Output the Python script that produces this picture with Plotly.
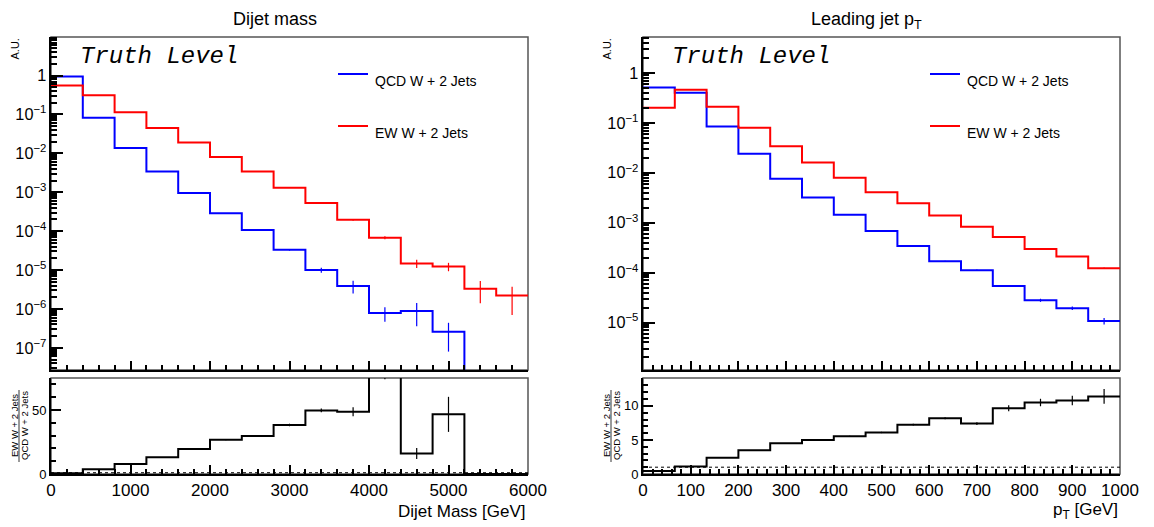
import numpy as np
import plotly.graph_objects as go

# ---------------- data ----------------
mass_edges_range = (0, 6000)
n_bins = 15
qcd_mass = [0.95, 0.082, 0.0137, 0.0034, 0.00095, 2.9e-4, 1.07e-4, 3.3e-5, 1.0e-5,
            3.9e-6, 7.9e-7, 8.9e-7, 2.6e-7, 0, 0]
qcd_mass_err = [0.002, 0.0006, 0.0001, 0.00003, 0.00001, 4e-6, 2e-6, 1.5e-6, 1.5e-6,
                1.4e-6, 3.2e-7, 5.3e-7, 1.8e-7, 0, 0]
ew_mass = [0.55, 0.31, 0.113, 0.045, 0.019, 0.0080, 0.0034, 0.0013, 5.3e-4,
           1.95e-4, 6.8e-5, 1.48e-5, 1.23e-5, 3.3e-6, 2.2e-6]
ew_mass_err = [0.003, 0.002, 0.0008, 0.0003, 0.0001, 5e-5, 2e-5, 1e-5, 8e-6,
               1e-5, 6e-6, 3.6e-6, 3e-6, 1.9e-6, 1.5e-6]
ratio_mass = [0.6, 3.7, 7.8, 13.0, 19.5, 26.8, 29.7, 38.3, 49.7, 48.7, 86.0, 16.1, 46.6, 0, 0]
ratio_mass_err = [0.01, 0.05, 0.1, 0.2, 0.3, 0.5, 0.7, 1.0, 1.5, 3.5, 12.0, 4.3, 13.7, 0, 0]

pt_range = (0, 1000)
qcd_pt = [0.51, 0.40, 0.085, 0.024, 0.0076, 0.0032, 0.00145, 6.8e-4, 3.4e-4,
          1.7e-4, 1.12e-4, 5.4e-5, 2.8e-5, 1.94e-5, 1.07e-5]
qcd_pt_err = [0.001, 0.001, 0.0003, 0.0001, 4e-5, 2e-5, 1e-5, 6e-6, 4e-6,
              3e-6, 3e-6, 2e-6, 2e-6, 1.5e-6, 1.6e-6]
ew_pt = [0.20, 0.46, 0.21, 0.080, 0.034, 0.016, 0.0080, 0.0041, 0.00245,
         0.0014, 8.3e-4, 5.2e-4, 2.97e-4, 2.1e-4, 1.23e-4]
ew_pt_err = [0.001, 0.002, 0.001, 0.0004, 0.0002, 0.0001, 5e-5, 3e-5, 2e-5,
             1.5e-5, 1e-5, 8e-6, 6e-6, 5e-6, 4e-6]
ratio_pt = [0.45, 1.1, 2.4, 3.5, 4.5, 5.0, 5.55, 6.1, 7.25, 8.2, 7.4, 9.65, 10.5, 10.8, 11.4]
ratio_pt_err = [0.01, 0.02, 0.03, 0.04, 0.05, 0.06, 0.08, 0.1, 0.12, 0.15, 0.2, 0.45, 0.55, 0.7, 1.1]

series_names = ["QCD W + 2 Jets", "EW W + 2 Jets"]
titles = ["Dijet mass", "Leading jet p<sub>T</sub>"]
x_titles = ["Dijet Mass [GeV]", "p<sub>T</sub> [GeV]"]
ratio_title = ["EW W + 2 Jets", "QCD W + 2 Jets"]

# ---------------- layout geometry ----------------
OFF = 8  # page body margin
W, H = 1154 - OFF, 527 - OFF
def px(x):
    return (x - OFF) / W
def py(y):
    return 1 - (y - OFF) / H
def dx(d):
    return d / W
def dy(d):
    return d / H

panels = [
    dict(xd=[px(51), px(528)], rng=mass_edges_range, qcd=qcd_mass, qe=qcd_mass_err,
         ew=ew_mass, ee=ew_mass_err, r=ratio_mass, re=ratio_mass_err,
         ylog=[-7.57, 0.99], rrange=[0, 75], rdt=50, rminor=10, xdt=1000, xminor=200),
    dict(xd=[px(643), px(1120)], rng=pt_range, qcd=qcd_pt, qe=qcd_pt_err,
         ew=ew_pt, ee=ew_pt_err, r=ratio_pt, re=ratio_pt_err,
         ylog=[-5.95, 0.72], rrange=[0, 14.1], rdt=5, rminor=1, xdt=100, xminor=20),
]

top_dom = [py(370), py(37)]
bot_dom = [py(474), py(378)]

fig = go.Figure()
FONT = "Liberation Sans, Arial, sans-serif"
layout = dict(width=W, height=H, margin=dict(l=0, r=0, t=0, b=0),
              paper_bgcolor="white", plot_bgcolor="white", showlegend=False,
              font=dict(family=FONT, color="black"))
shapes = []
annotations = []

def axname(n):
    return "" if n == 1 else str(n)

for i, p in enumerate(panels):
    nt, nb = 2 * i + 1, 2 * i + 2
    xa_top, ya_top = "x" + axname(nt), "y" + axname(nt)
    xa_bot, ya_bot = "x" + axname(nb), "y" + axname(nb)
    edges = np.linspace(p["rng"][0], p["rng"][1], n_bins + 1)
    centers = 0.5 * (edges[:-1] + edges[1:])
    floor_val = 10 ** (p["ylog"][0] - 1)

    for vals, errs, col in [(p["qcd"], p["qe"], "#0000ff"), (p["ew"], p["ee"], "#ff0000")]:
        v = np.array(vals, dtype=float)
        v_plot = np.where(v > 0, v, floor_val)
        ystep = np.append(v_plot, v_plot[-1])
        fig.add_trace(go.Scatter(x=edges, y=ystep, mode="lines", line=dict(color=col, width=2, shape="hv"),
                                 xaxis=xa_top, yaxis=ya_top, hoverinfo="skip"))
        mask = v > 0
        fig.add_trace(go.Scatter(x=centers[mask], y=v[mask], mode="markers", marker=dict(size=0.1, color=col),
                                 error_y=dict(type="data", array=np.array(errs)[mask], color=col, thickness=1.2, width=0),
                                 xaxis=xa_top, yaxis=ya_top, hoverinfo="skip"))

    r = np.array(p["r"], dtype=float)
    fig.add_trace(go.Scatter(x=edges, y=np.append(r, r[-1]), mode="lines",
                             line=dict(color="black", width=2, shape="hv"),
                             xaxis=xa_bot, yaxis=ya_bot, hoverinfo="skip"))
    mask = r > 0
    fig.add_trace(go.Scatter(x=centers[mask], y=r[mask], mode="markers", marker=dict(size=0.1, color="black"),
                             error_y=dict(type="data", array=np.array(p["re"])[mask], color="black", thickness=1.2, width=0),
                             xaxis=xa_bot, yaxis=ya_bot, hoverinfo="skip"))
    fig.add_trace(go.Scatter(x=[p["rng"][0], p["rng"][1]], y=[1, 1], mode="lines",
                             line=dict(color="black", width=1, dash="dot"),
                             xaxis=xa_bot, yaxis=ya_bot, hoverinfo="skip"))

    axcommon = dict(showgrid=False, zeroline=False, showline=True, linecolor="black", linewidth=2,
                    ticks="inside", tickcolor="black", tickwidth=1.5, automargin=False)
    layout["xaxis" + axname(nt)] = dict(axcommon, domain=p["xd"], anchor=ya_top, range=list(p["rng"]),
                                showticklabels=False, dtick=p["xdt"], tick0=0, ticklen=9,
                                minor=dict(ticks="inside", dtick=p["xminor"], ticklen=5, tickcolor="black", tickwidth=1.5))
    layout["yaxis" + axname(nt)] = dict(axcommon, domain=top_dom, anchor=xa_top, type="log", range=p["ylog"],
                                dtick=1, ticklen=12, exponentformat="power", tickfont=dict(size=13),
                                minor=dict(ticks="inside", dtick="D1", ticklen=6, tickcolor="black", tickwidth=1.5))
    layout["xaxis" + axname(nb)] = dict(axcommon, domain=p["xd"], anchor=ya_bot, range=list(p["rng"]),
                                dtick=p["xdt"], tick0=0, ticklen=9, tickfont=dict(size=17),
                                minor=dict(ticks="inside", dtick=p["xminor"], ticklen=5, tickcolor="black", tickwidth=1.5))
    layout["yaxis" + axname(nb)] = dict(axcommon, domain=bot_dom, anchor=xa_bot, range=p["rrange"],
                                dtick=p["rdt"], tick0=0, ticklen=10, tickfont=dict(size=13),
                                minor=dict(ticks="inside", dtick=p["rminor"], ticklen=5, tickcolor="black", tickwidth=1.5))

    for xa, ya in [(xa_top, ya_top), (xa_bot, ya_bot)]:
        shapes.append(dict(type="rect", xref=f"{xa} domain", yref=f"{ya} domain", x0=0, x1=1, y0=0, y1=1,
                           line=dict(color="#555555", width=1.5), layer="below"))

    x0p, x1p = p["xd"]
    annotations.append(dict(text=titles[i], x=(x0p + x1p) / 2 - dx(15), y=1.0, xref="paper", yref="paper",
                            showarrow=False, font=dict(size=18, family=FONT), xanchor="center", yanchor="top",
                            borderpad=0))
    annotations.append(dict(text=x_titles[i], x=x1p, y=py(511), xref="paper", yref="paper",
                            showarrow=False, font=dict(size=17, family=FONT), xanchor="right", yanchor="middle"))
    annotations.append(dict(text="A.U.", x=x0p - dx(36), y=py(37), xref="paper", yref="paper", textangle=-90,
                            showarrow=False, font=dict(size=11, family=FONT), xanchor="center", yanchor="top"))
    annotations.append(dict(text="<i>Truth Level</i>", x=x0p + dx(27), y=py(57), xref="paper", yref="paper",
                            showarrow=False, font=dict(size=24, family="Liberation Mono, Courier New, monospace"),
                            xanchor="left", yanchor="middle"))
    for j, (nm, col) in enumerate(zip(series_names, ["#0000ff", "#ff0000"])):
        ly = 74 + j * 52
        shapes.append(dict(type="line", xref="paper", yref="paper", x0=x0p + dx(287), x1=x0p + dx(317),
                           y0=py(ly), y1=py(ly), line=dict(color=col, width=2)))
        annotations.append(dict(text=nm, x=x0p + dx(322), y=py(ly + 7), xref="paper", yref="paper",
                                showarrow=False, font=dict(size=14, family=FONT), xanchor="left", yanchor="middle"))
    cy = py(426)
    annotations.append(dict(text=ratio_title[0], x=x0p - dx(37), y=cy, xref="paper", yref="paper", textangle=-90,
                            showarrow=False, font=dict(size=9.5, family=FONT), xanchor="center", yanchor="middle"))
    annotations.append(dict(text=ratio_title[1], x=x0p - dx(27), y=cy, xref="paper", yref="paper", textangle=-90,
                            showarrow=False, font=dict(size=9.5, family=FONT), xanchor="center", yanchor="middle"))
    shapes.append(dict(type="line", xref="paper", yref="paper", x0=x0p - dx(32), x1=x0p - dx(32),
                       y0=cy - dy(36), y1=cy + dy(36), line=dict(color="black", width=0.8)))

layout["shapes"] = shapes
layout["annotations"] = annotations
fig.update_layout(**layout)
fig.write_html("out.html")
